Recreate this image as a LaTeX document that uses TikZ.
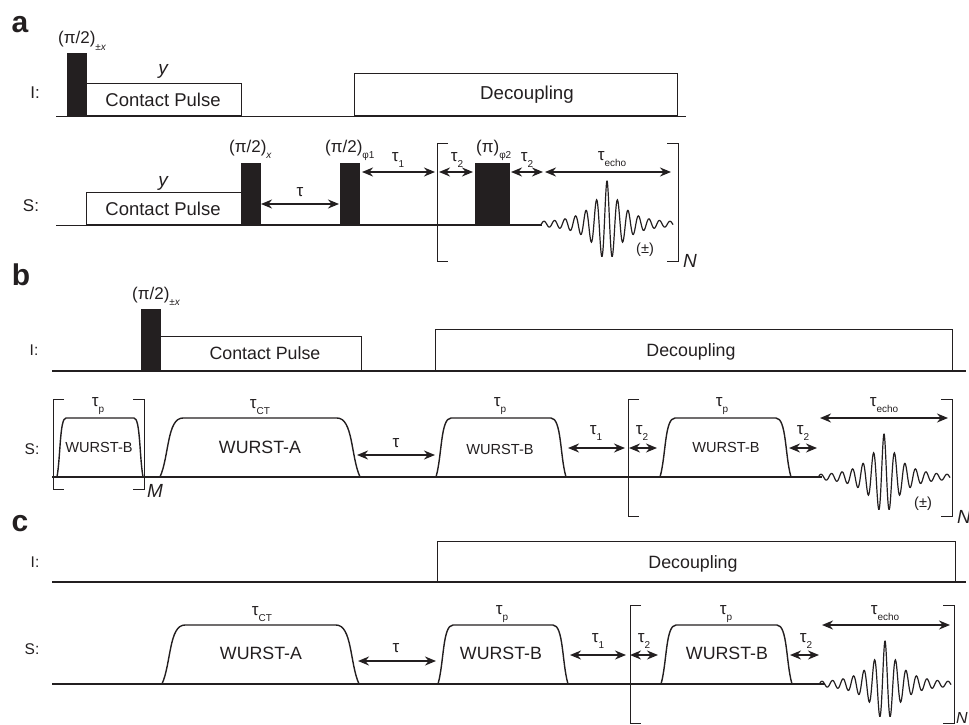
\documentclass[tikz,border=0pt]{standalone}
\usepackage{xcolor}
\usepackage{fontspec}
\setmainfont{Liberation Sans}
\usetikzlibrary{arrows.meta, positioning}
\definecolor{ink}{HTML}{231F20}
\newcommand{\lowsub}[1]{\raisebox{-6.5pt}{\fontsize{10}{10}\selectfont #1}}
\newcommand{\fidsignal}[3]{%
  \draw[ink, line width=1.2pt] plot[domain=-66:66, samples=260, smooth]
    ({#1+\x},{#2-#3*(42*exp(-abs(\x)/16.6)+1.8)*cos(34.2857*\x)});}
\newcommand{\wurstpulse}[5]{%
  \draw[ink, line width=1.4pt] (#1,#5) .. controls ({#1+0.4*#3},{#5-0.35*(#5-#4)}) and ({#1+0.3*#3},#4) .. ({#1+#3},#4)
    -- ({#2-#3},#4) .. controls ({#2-0.3*#3},#4) and ({#2-0.4*#3},{#5-0.35*(#5-#4)}) .. (#2,#5);}
\begin{document}
\begin{tikzpicture}[
        x=1pt, y=-1pt,
        lbl/.style={inner sep=0pt, text=ink, font=\fontsize{17}{17}\selectfont},
        delay/.style={lbl, anchor=base},
        phase/.style={lbl, anchor=base west},
        small/.style={inner sep=0pt, text=ink, font=\fontsize{14.6}{15}\selectfont},
        side/.style={inner sep=0pt, text=ink, font=\fontsize{15.5}{16}\selectfont},
        big/.style={inner sep=0pt, text=ink, font=\fontsize{17.8}{18}\selectfont},
        ital/.style={inner sep=0pt, text=ink, font=\fontsize{19}{19}\selectfont\itshape},
        panel/.style={inner sep=0pt, text=ink, font=\fontsize{30}{30}\selectfont\bfseries},
        hard/.style={rectangle, draw=ink, fill=ink, inner sep=0pt, anchor=south west},
        pulsebox/.style={rectangle, draw=ink, line width=1pt, inner sep=0pt, anchor=south west, text=ink},
        arr/.style={{Stealth[length=11pt, width=9pt]}-{Stealth[length=11pt, width=9pt]}, ink, line width=1.7pt},
        brk/.style={draw=ink, line width=1pt},
    ]
    \useasboundingbox (0,0) rectangle (969,725);

    % baselines
    \foreach \n/\xa/\xb/\y/\w in {aI/56/686/116/1, aS/56/229/225/1, aT/229/542/225/1.6, bI/52/966/371/1.4, bS/52/822/477/1.6, cI/52/966/582/1.4, cS/52/825/684/1.6} {
        \coordinate (\n l) at (\xa,\y);
        \coordinate (\n r) at (\xb,\y);
        \draw[ink, line width=\w pt] (\n l) -- (\n r);
    }

    % panel a
    \node[panel] (pa) at (20,25) {a};
    \node[lbl] (aIl) at (35,93) {I:};
    \node[lbl] (aSl) at (31,206) {S:};
    \node[hard, minimum width=19pt, minimum height=63pt] (ah1) at (67,116) {};
    \node[pulsebox, minimum width=155pt, minimum height=32pt] (acpI) at (86,116) {};
    \node[inner sep=0pt, text=ink, font=\fontsize{18.5}{19}\selectfont] (acpIt) at (163,100) {Contact Pulse};
    \node[pulsebox, minimum width=323pt, minimum height=42pt] (adec) at (354,116) {};
    \node[big, font=\fontsize{18.7}{19}\selectfont] (adect) at (527,95) {Decoupling};
    \node[phase] (ah1t) at (58,44) {(π/2)\lowsub{±\textit{x}}};
    \node[ital] (ayI) at (163,71) {y};
    \node[pulsebox, minimum width=155pt, minimum height=32pt] (acpS) at (86,225) {};
    \node[inner sep=0pt, text=ink, font=\fontsize{18.5}{19}\selectfont] (acpSt) at (163,209) {Contact Pulse};
    \node[ital] (ayS) at (163,183) {y};
    \node[hard, minimum width=19pt, minimum height=62pt] (ah2) at (241,225) {};
    \node[hard, minimum width=19pt, minimum height=62pt] (ah3) at (340,225) {};
    \node[hard, minimum width=34pt, minimum height=62pt] (ah4) at (475,225) {};
    \node[phase] (ah2t) at (229,152) {(π/2)\lowsub{\textit{x}}};
    \node[phase] (ah3t) at (325,152) {(π/2)\lowsub{φ1}};
    \node[phase] (ah4t) at (476,152) {(π)\lowsub{φ2}};
    \node[lbl] (atau) at (300,192) {τ};
    \node[delay] (atau1) at (398,161) {τ\lowsub{1}};
    \node[delay] (atau2a) at (457,161) {τ\lowsub{2}};
    \node[delay] (atau2b) at (527,161) {τ\lowsub{2}};
    \node[delay] (aecho) at (612,160) {τ\lowsub{echo}};
    \node[small] (apm) at (645,250) {(±)};
    \node[ital] (aN) at (690,261) {N};
    \fidsignal{607}{224}{1}

    % panel b
    \node[panel] (pb) at (21,275) {b};
    \node[side] (bIl) at (34,350) {I:};
    \node[side] (bSl) at (32,449) {S:};
    \node[hard, minimum width=19pt, minimum height=62pt] (bh1) at (141,371) {};
    \node[pulsebox, minimum width=201pt, minimum height=34pt] (bcp) at (160,371) {};
    \node[big] (bcpt) at (265,353) {Contact Pulse};
    \node[phase] (bh1t) at (132,299) {(π/2)\lowsub{±\textit{x}}};
    \node[pulsebox, minimum width=517pt, minimum height=41pt] (bdec) at (435,371) {};
    \node[big] (bdect) at (691,352) {Decoupling};
    \wurstpulse{57}{143}{9}{418}{477}
    \wurstpulse{160}{360}{23}{418}{477}
    \wurstpulse{436}{566}{15}{418}{477}
    \wurstpulse{660}{791}{15}{418}{477}
    \node[small] (bw1) at (99,447) {WURST-B};
    \node[big] (bw2) at (260,447) {WURST-A};
    \node[small] (bw3) at (500,449) {WURST-B};
    \node[small] (bw4) at (726,447) {WURST-B};
    \node[delay] (btp1) at (98,406) {τ\lowsub{p}};
    \node[delay] (btct) at (260,408) {τ\lowsub{CT}};
    \node[delay] (btp2) at (500,406) {τ\lowsub{p}};
    \node[delay] (btp3) at (722,406) {τ\lowsub{p}};
    \node[lbl] (btau) at (396,443) {τ};
    \node[delay] (btau1) at (596,434) {τ\lowsub{1}};
    \node[delay] (btau2a) at (642,434) {τ\lowsub{2}};
    \node[delay] (btau2b) at (803,434) {τ\lowsub{2}};
    \node[delay] (becho) at (884,406) {τ\lowsub{echo}};
    \node[small] (bpm) at (923,504) {(±)};
    \node[ital] (bM) at (155,491) {M};
    \node[ital] (bN) at (964,517) {N};
    \fidsignal{884}{477}{1}

    % panel c
    \node[panel] (pc) at (20,524) {c};
    \node[side] (cIl) at (35,562) {I:};
    \node[side] (cSl) at (32,649) {S:};
    \node[pulsebox, minimum width=518pt, minimum height=40pt] (cdec) at (437,582) {};
    \node[big] (cdect) at (693,564) {Decoupling};
    \wurstpulse{162}{359}{23}{625}{684}
    \wurstpulse{438}{568}{15}{625}{684}
    \wurstpulse{661}{792}{15}{625}{684}
    \node[big] (cw1) at (261,653) {WURST-A};
    \node[big] (cw2) at (501,653) {WURST-B};
    \node[big] (cw3) at (727,653) {WURST-B};
    \node[delay] (ctct) at (262,615) {τ\lowsub{CT}};
    \node[delay] (ctp1) at (502,614) {τ\lowsub{p}};
    \node[delay] (ctp2) at (726,614) {τ\lowsub{p}};
    \node[lbl] (ctau) at (396,648) {τ};
    \node[delay] (ctau1) at (598,642) {τ\lowsub{1}};
    \node[delay] (ctau2a) at (644,642) {τ\lowsub{2}};
    \node[delay] (ctau2b) at (806,642) {τ\lowsub{2}};
    \node[delay] (cecho) at (885,614) {τ\lowsub{echo}};
    \node[ital, font=\fontsize{16}{16}\selectfont\itshape] (cN) at (962,718) {N};
    \fidsignal{885}{684}{1}

    % delay arrows
    \foreach \n/\xa/\xb/\y in {da/261/339/204, db/362/435/172, dc/439/473/172, dd/511/543/172, de/545/671/172,
                               fa/357/435/455, fb/568/625/448, fc/629/657/448, fd/789/817/448, fe/820/948/418,
                               ga/358/436/661, gb/570/626/655, gc/630/658/655, gd/790/819/655, ge/822/950/625} {
        \coordinate (\n l) at (\xa,\y);
        \coordinate (\n r) at (\xb,\y);
        \draw[arr] (\n l) -- (\n r);
    }

    % phase-cycle brackets
    \foreach \n/\xa/\xb/\ya/\yb in {ba/437/678/143/261, bb/53/144/399/489, bc/628/952/399/516, bd/630/954/605/723} {
        \coordinate (\n tl) at (\xa,\ya);
        \coordinate (\n bl) at (\xa,\yb);
        \coordinate (\n tr) at (\xb,\ya);
        \coordinate (\n br) at (\xb,\yb);
        \draw[brk] ([xshift=11pt]\n tl) -- (\n tl) -- (\n bl) -- ([xshift=11pt]\n bl);
        \draw[brk] ([xshift=-11pt]\n tr) -- (\n tr) -- (\n br) -- ([xshift=-11pt]\n br);
    }
\end{tikzpicture}
\end{document}
